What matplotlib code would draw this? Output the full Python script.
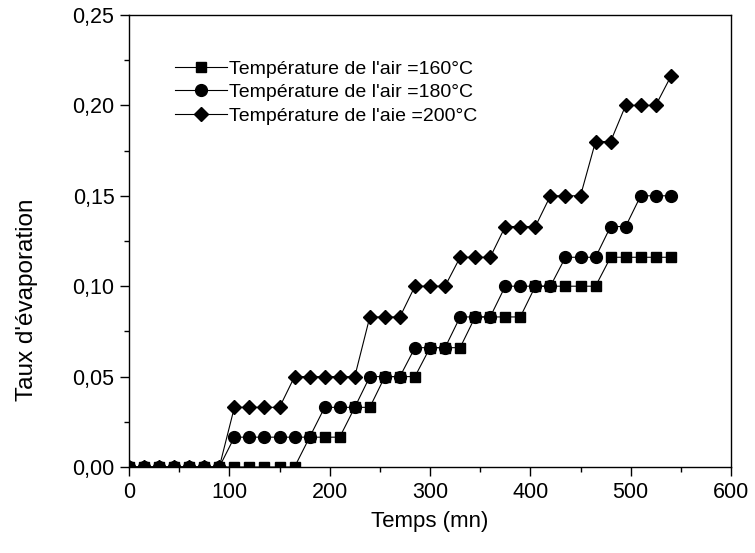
import matplotlib
matplotlib.use("Agg")
import matplotlib.pyplot as plt
from matplotlib.ticker import MultipleLocator, FuncFormatter

plt.rcParams['font.family'] = ['Liberation Sans', 'DejaVu Sans']

# temps (mn)
temps = [0, 15, 30, 45, 60, 75, 90, 105, 120, 135, 150, 165, 180, 195, 210,
         225, 240, 255, 270, 285, 300, 315, 330, 345, 360, 375, 390, 405,
         420, 435, 450, 465, 480, 495, 510, 525, 540]

# taux d'evaporation, air a 160 C
taux_160 = [0, 0, 0, 0, 0, 0, 0, 0, 0, 0, 0, 0,
            0.0165, 0.0165, 0.0165,
            0.033, 0.033,
            0.05, 0.05, 0.05,
            0.066, 0.066, 0.066,
            0.083, 0.083, 0.083, 0.083,
            0.1, 0.1, 0.1, 0.1, 0.1,
            0.116, 0.116, 0.116, 0.116, 0.116]

# air a 180 C
taux_180 = [0, 0, 0, 0, 0, 0, 0,
            0.0165, 0.0165, 0.0165, 0.0165, 0.0165, 0.0165,
            0.033, 0.033, 0.033,
            0.05, 0.05, 0.05,
            0.066, 0.066, 0.066,
            0.083, 0.083, 0.083,
            0.1, 0.1, 0.1, 0.1,
            0.116, 0.116, 0.116,
            0.133, 0.133,
            0.15, 0.15, 0.15]

# air a 200 C
taux_200 = [0, 0, 0, 0, 0, 0, 0,
            0.033, 0.033, 0.033, 0.033,
            0.05, 0.05, 0.05, 0.05, 0.05,
            0.083, 0.083, 0.083,
            0.1, 0.1, 0.1,
            0.116, 0.116, 0.116,
            0.133, 0.133, 0.133,
            0.15, 0.15, 0.15,
            0.18, 0.18,
            0.2, 0.2, 0.2,
            0.216]

labels = ["Température de l'air =160°C",
          "Température de l'air =180°C",
          "Température de l'aie =200°C"]

fig = plt.figure(figsize=(7.55, 5.53), dpi=100)
ax = fig.add_axes([0.1709, 0.1555, 0.7973, 0.8174])

ax.plot(temps, taux_160, color='black', lw=0.8, marker='s', ms=7.5,
        label=labels[0], zorder=4)
ax.plot(temps, taux_180, color='black', lw=0.8, marker='o', ms=8.5,
        label=labels[1], zorder=3)
ax.plot(temps, taux_200, color='black', lw=0.8, marker='D', ms=7.3,
        label=labels[2], zorder=2)

ax.set_xlim(0, 600)
ax.set_ylim(0, 0.25)
ax.xaxis.set_major_locator(MultipleLocator(100))
ax.xaxis.set_minor_locator(MultipleLocator(50))
ax.yaxis.set_major_locator(MultipleLocator(0.05))
ax.yaxis.set_minor_locator(MultipleLocator(0.025))
ax.yaxis.set_major_formatter(FuncFormatter(lambda v, p: ('%.2f' % v).replace('.', ',')))
ax.tick_params(which='major', direction='out', length=6.5, width=1,
               labelsize=15.5, pad=4)
ax.tick_params(which='minor', direction='out', length=3.5, width=1)
for s in ax.spines.values():
    s.set_linewidth(1)

ax.set_xlabel('Temps (mn)', fontsize=16, labelpad=6)
ax.set_ylabel("Taux d'évaporation", fontsize=17.5)
ax.yaxis.set_label_coords(-0.151, 0.37)

ax.legend(loc='upper left', bbox_to_anchor=(0.076, 0.9), frameon=False,
          fontsize=14, handlelength=2.7, handletextpad=0.1,
          labelspacing=0.3, borderpad=0, borderaxespad=0)

fig.savefig('out.png', dpi=100)
